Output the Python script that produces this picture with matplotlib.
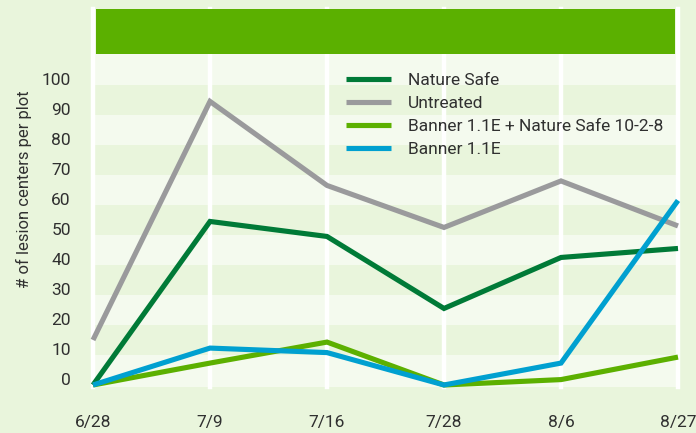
import matplotlib
matplotlib.use("Agg")
import matplotlib.pyplot as plt
from matplotlib.patches import Rectangle

dates = ["6/28", "7/9", "7/16", "7/28", "8/6", "8/27"]
nature_safe = [0, 54.5, 49.5, 25.5, 42.5, 45.5]
untreated = [15, 94.5, 66.5, 52.5, 68, 53]
banner_ns = [0, 7.3, 14.3, 0, 1.8, 9.3]
banner = [0, 12.3, 10.8, 0, 7.3, 61.5]
yticks = [0, 10, 20, 30, 40, 50, 60, 70, 80, 90, 100]

series = [
    ("Nature Safe", nature_safe, "#007a37"),
    ("Untreated", untreated, "#9a9a9c"),
    ("Banner 1.1E + Nature Safe 10-2-8", banner_ns, "#5cb000"),
    ("Banner 1.1E", banner, "#00a0d0"),
]

fam = ["Roboto", "DejaVu Sans"]
TXT = "#303030"
BG = "#e9f5dc"
LIGHT = "#f4faee"

fig = plt.figure(figsize=(6.96, 4.33), dpi=100, facecolor=BG)
W, H = 696, 433
left, right, top, bottom = 93, 678, 9, 387
ax = fig.add_axes([left / W, (H - bottom) / H, (right - left) / W, (bottom - top) / H])
ax.set_facecolor(BG)
ax.set_xlim(0, 5)
ax.set_ylim(-0.67, 125.3)

for lo in range(0, 110, 20):
    ax.axhspan(lo if lo > 0 else -0.67, lo + 10, color=LIGHT, lw=0, zorder=0)
ax.axhspan(100, 110.3, color=LIGHT, lw=0, zorder=0)

x = list(range(len(dates)))
for xi in x:
    ax.axvline(xi, color="white", lw=3.2, zorder=1, clip_on=False)

ax.add_patch(Rectangle((0.025, 110.3), 4.95, 15.0, color="#5bb000", lw=0, zorder=2))

for name, vals, col in series:
    ax.plot(x, vals, color=col, lw=3.7, label=name, zorder=3, solid_capstyle="butt",
            solid_joinstyle="miter", clip_on=False)

for s in ax.spines.values():
    s.set_visible(False)
ax.tick_params(length=0)
ax.set_xticks(x)
ax.set_xticklabels(dates, fontsize=12.5, color=TXT, family=fam)
ax.set_yticks(yticks)
ax.set_yticklabels([str(v) for v in yticks], fontsize=12.5, color=TXT, family=fam, va="baseline")
ax.tick_params(axis="x", pad=20)
ax.tick_params(axis="y", pad=16)
ax.set_ylabel("# of lesion centers per plot", fontsize=12, color=TXT, family=fam)
ax.yaxis.set_label_coords(-(left - 32) / (right - left), (bottom - 189) / (bottom - top))

leg = ax.legend(loc="upper left", bbox_to_anchor=((339 - left) / (right - left), (bottom - 66) / (bottom - top)),
                frameon=False, handlelength=2.6, handletextpad=0.95, labelspacing=0.45,
                prop={"family": fam, "size": 12.5}, borderaxespad=0)
for t in leg.get_texts():
    t.set_color(TXT)

fig.savefig("out.png", dpi=100, facecolor=BG)
